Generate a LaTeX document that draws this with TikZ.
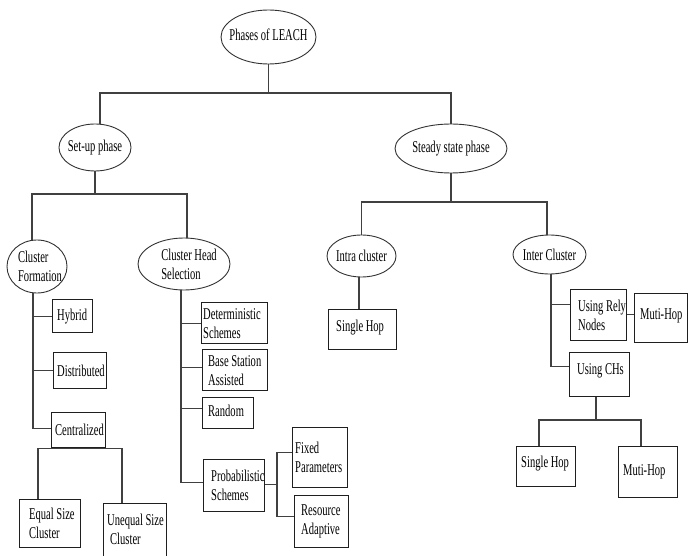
\documentclass[tikz,border=0pt]{standalone}
\usepackage{fontspec}
\usetikzlibrary{shapes.geometric}
\newfontfamily\leachserif{Liberation Serif}[FakeStretch=0.64]
\newcommand\nodefont{\leachserif\fontsize{16.5}{19}\selectfont}
\begin{document}
\begin{tikzpicture}[x=1pt,y=-1pt,
  box/.style={draw=black!88, line width=1.3pt, rectangle, anchor=north west, inner sep=0pt},
  btext/.style={font=\nodefont, align=left, inner sep=0pt, anchor=west},
  ell/.style={draw=black!80, line width=0.9pt, ellipse, inner sep=0pt},
  etext/.style={font=\nodefont, align=left, inner sep=0pt},
  conn/.style={draw=black!75, line width=1.2pt}]
\useasboundingbox (0,0) rectangle (688,556);
\clip (0,0) rectangle (688,556);
\fill[white] (0,0) rectangle (688,556);

% ---- ellipses ----
\node[ell, minimum width=95pt, minimum height=54pt,
      label={[etext,yshift=2pt]center:Phases of LEACH}] (root) at (268.5,37) {};
\node[ell, minimum width=72pt, minimum height=47pt,
      label={[etext]center:Set-up phase}] (setup) at (95,147.5) {};
\node[ell, minimum width=112pt, minimum height=49pt,
      label={[etext]center:Steady state phase}] (steady) at (451,148.5) {};
\node[ell, minimum width=60pt, minimum height=53pt,
      label={[etext,xshift=3pt]center:Cluster\\Formation}] (cform) at (37,266.5) {};
\node[ell, minimum width=92pt, minimum height=52pt,
      label={[etext,xshift=5pt]center:Cluster Head\\Selection}] (chsel) at (184,264) {};
\node[ell, minimum width=69pt, minimum height=42pt,
      label={[etext]center:Intra cluster}] (intra) at (361.5,256) {};
\node[ell, minimum width=73pt, minimum height=39pt,
      label={[etext]center:Inter Cluster}] (inter) at (549.5,254.5) {};

% ---- boxes: cluster formation ----
\node[box, minimum width=40pt, minimum height=33pt,
      label={[btext,xshift=5pt]west:Hybrid}] (hyb) at (52,299) {};
\node[box, minimum width=53pt, minimum height=36pt,
      label={[btext,xshift=4pt]west:Distributed}] (dist) at (53,352) {};
\node[box, minimum width=54pt, minimum height=35pt,
      label={[btext,xshift=4pt]west:Centralized}] (cent) at (51,412) {};
\node[box, minimum width=61pt, minimum height=48pt,
      label={[btext,xshift=10pt]west:Equal Size\\Cluster}] (equal) at (19,499) {};
\node[box, minimum width=63pt, minimum height=60pt,
      label={[btext,xshift=4pt,yshift=4pt]west:Unequal Size\\\hspace*{3pt}Cluster}] (unequal) at (103,503) {};

% ---- boxes: cluster head selection ----
\node[box, minimum width=66pt, minimum height=41pt,
      label={[btext,xshift=2pt]west:Deterministic\\Schemes}] (det) at (201,302) {};
\node[box, minimum width=65pt, minimum height=41pt,
      label={[btext,xshift=6pt]west:Base Station\\Assisted}] (bsa) at (202,349) {};
\node[box, minimum width=51pt, minimum height=31pt,
      label={[btext,xshift=6pt,yshift=2pt]west:Random}] (rand) at (202,397) {};
\node[box, minimum width=61pt, minimum height=52pt,
      label={[btext,xshift=8pt]west:Probabilistic\\Schemes}] (prob) at (203,459) {};
\node[box, minimum width=55pt, minimum height=60pt,
      label={[btext,xshift=3pt]west:Fixed\\Parameters}] (fixp) at (292,427) {};
\node[box, minimum width=54pt, minimum height=52pt,
      label={[btext,xshift=7pt]west:Resource\\Adaptive}] (resa) at (294,495) {};

% ---- boxes: steady state ----
\node[box, minimum width=68pt, minimum height=40pt,
      label={[btext,xshift=8pt,yshift=2pt]west:Single Hop}] (hop1) at (328,309) {};
\node[box, minimum width=56pt, minimum height=51pt,
      label={[btext,xshift=8pt]west:Using Rely\\Nodes}] (rely) at (570,289) {};
\node[box, minimum width=53pt, minimum height=49pt,
      label={[btext,xshift=6pt,yshift=2pt]west:Muti-Hop}] (multi1) at (634,293) {};
\node[box, minimum width=60pt, minimum height=44pt,
      label={[btext,xshift=8pt,yshift=4pt]west:Using CHs}] (usech) at (569,352) {};
\node[box, minimum width=59pt, minimum height=40pt,
      label={[btext,xshift=5pt,yshift=3pt]west:Single Hop}] (hop2) at (516,446) {};
\node[box, minimum width=59pt, minimum height=51pt,
      label={[btext,xshift=5pt]west:Muti-Hop}] (multi2) at (618,446) {};

% ---- connectors: top levels ----
\draw[conn] (root.south) -- (root.south |- 0,93) coordinate (j0);
\draw[conn] (setup.north -| 100,0) |- (j0) -| (steady.north);
\draw[conn] (setup.south) -- (setup.south |- 0,194) coordinate (j1);
\draw[conn] (cform.north -| 32,0) |- (j1) -| (chsel.north -| 187,0);
\draw[conn] (steady.south) -- (steady.south |- 0,202) coordinate (j4);
\draw[conn] (intra.north) |- (j4) -| (inter.north -| 547,0);

% ---- connectors: cluster formation ----
\draw[conn] (cform.south -| 33,0) |- (hyb.west);
\draw[conn] (cform.south -| 33,0) |- (dist.west);
\draw[conn] (cform.south -| 33,0) |- ([yshift=2pt]cent.west);
\draw[conn] (cent.south -| 76,0) -- (cent.south -| 76,0 |- 0,477) coordinate (j2);
\draw[conn] (equal.north -| 38,0) |- (j2) -| (unequal.north -| 122,0);

% ---- connectors: cluster head selection ----
\draw[conn] (chsel.south -| 181,0) |- (det.west);
\draw[conn] (chsel.south -| 181,0) |- ([yshift=3pt]bsa.west);
\draw[conn] (chsel.south -| 181,0) |- ([yshift=5pt]rand.west);
\draw[conn] (chsel.south -| 181,0) |- ([yshift=3pt]prob.west);
\draw[conn] ([yshift=1pt]prob.east) -- ([yshift=1pt]prob.east -| 277,0) coordinate (j3);
\draw[conn] ([yshift=5pt]fixp.west) -| (j3) |- ([yshift=5pt]resa.west);

% ---- connectors: intra / inter cluster ----
\draw[conn] (intra.south -| 359,0) -- (hop1.north -| 359,0);
\draw[conn] (inter.south -| 551,0) |- ([yshift=11pt]rely.west);
\draw[conn] (inter.south -| 551,0) |- ([yshift=8pt]usech.west);
\draw[conn] ([yshift=1pt]rely.east) -- ([yshift=1pt]rely.east -| multi1.west);
\coordinate (j5) at (596,420);
\draw[conn] (usech.south -| j5) -- (j5);
\draw[conn] (hop2.north -| 539,0) |- (j5) -| (multi2.north -| 641,0);
\end{tikzpicture}
\end{document}
